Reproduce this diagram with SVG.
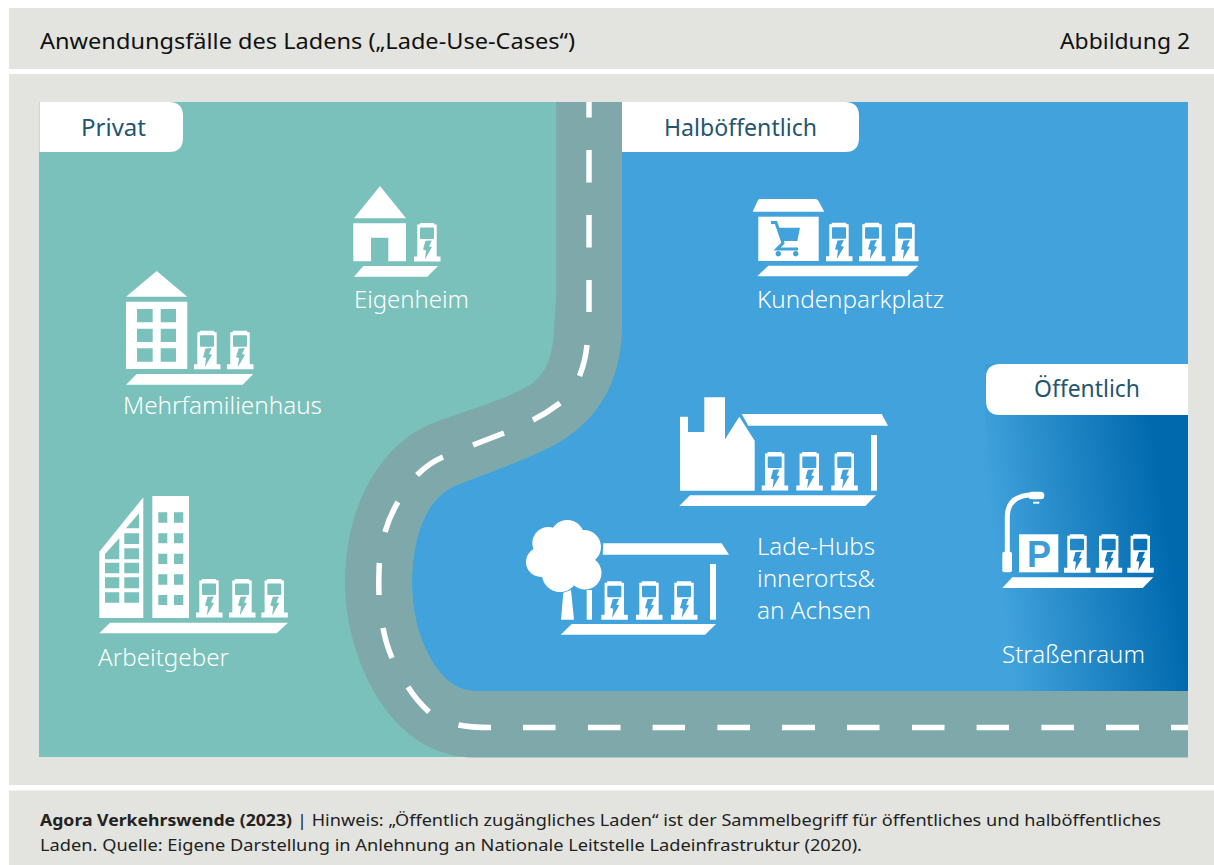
<svg xmlns="http://www.w3.org/2000/svg" width="1214" height="865" viewBox="0 0 1214 865">
<style>
.bar{fill:#E3E4DF}
.w{fill:#fff}
.t{font-family:"Noto Sans","Liberation Sans",sans-serif}
.hd{font-size:22px;fill:#111}
.tab{font-size:23px;fill:#245570;text-anchor:start}
.lb{font-size:23px;fill:#fff;font-weight:300}
.ft{font-size:16px;fill:#222}
.dash{fill:none;stroke:#fff;stroke-width:5.5}
</style>
<defs>
<linearGradient id="pub" gradientUnits="userSpaceOnUse" x1="1000" y1="585" x2="1172" y2="560">
<stop offset="0" stop-color="#41A2DC"/><stop offset="1" stop-color="#0069AE"/>
</linearGradient>
<path id="charger" fill="#fff" fill-rule="evenodd" d="M6 0H20L20.5 1.5H22.7V33.5H26.5V38.5H0V33.5H3.3V1.5H5.5ZM7 4.5Q6 4.5 6 5.5V15Q6 16 7 16H19Q20 16 20 15V5.5Q20 4.5 19 4.5ZM11.5 17.8L17.8 17.4L15 23.4L18 24L10.8 36.5L12 27.4L9 26.6Z"/>
</defs>
<rect class="bar" x="9" y="8" width="1205" height="61"/>
<rect class="bar" x="9" y="74" width="1205" height="711"/>
<rect class="bar" x="9" y="790.5" width="1205" height="74.5"/>
<text class="t hd" x="40" y="49" textLength="535" lengthAdjust="spacingAndGlyphs">Anwendungsfälle des Ladens („Lade-Use-Cases“)</text>
<text class="t hd" x="1060" y="49" textLength="130" lengthAdjust="spacingAndGlyphs">Abbildung 2</text>
<g id="scene">
<rect x="39" y="102" width="1149" height="655" fill="#79C1BA"/>
<path id="halboeffentlich-area" fill="#41A2DC" d="M610 102H1188V691H475C440 691 412 640 412 583C412 530 430 495 457 485C500 468 540 455 567 437C590 420 610 380 610 330Z"/>
<rect id="oeffentlich-area" x="985" y="364" width="203" height="327" fill="url(#pub)"/>
<path id="road" fill="#7EA8AA" d="M556 102V300L554 330C553 352 548 373 530 385C505 400 465 411 433 423C385 442 345 500 345 583C345 650 385 757 475 757.5H1188V691H475C440 691 412 640 412 583C412 530 430 495 457 485C500 468 540 455 567 437C605 412 621 372 622 330V102Z"/>
<path id="road-markings" class="dash" d="M589 102V117.5M589 150V182.5M589 215V247.5M589 280V312M587 345Q585.5 361 579.5 376M560 403Q547 413 533 420M504 433L473 445M443 457Q429 463 417 475M398 502Q390 515 385 532M379.3 563Q378.5 580 379 595M383 628Q386 644 392 658M408 687Q417 701 429 712M458.5 725Q470 727.5 491 727.5M523 727.5H555.5M588 727.5H620.5M652.6 727.5H685M717.4 727.5H750M782 727.5H815M847 727.5H879.5M912 727.5H944.5M976.6 727.5H1009M1041.4 727.5H1074M1106 727.5H1139M1171 727.5H1188"/>
</g>
<g id="tab-privat">
<path class="w" d="M39.5 102H169Q183 102 183 116V138Q183 152 169 152H39.5Z"/>
<text class="t tab" x="81" y="136" textLength="65" lengthAdjust="spacingAndGlyphs">Privat</text>
</g>
<g id="tab-halb">
<path class="w" d="M622 102H845Q859 102 859 116V138Q859 152 845 152H622Z"/>
<text class="t tab" x="664" y="136" textLength="153" lengthAdjust="spacingAndGlyphs">Halböffentlich</text>
</g>
<g id="tab-oeffentlich">
<path class="w" d="M1188 364H1000Q986 364 986 378V401Q986 415 1000 415H1188Z"/>
<text class="t tab" x="1034" y="397" textLength="106" lengthAdjust="spacingAndGlyphs">Öffentlich</text>
</g>
<g id="eigenheim">
<path class="w" fill-rule="evenodd" d="M380 186L406 218.3H354ZM353.3 223.3H406V261.3H388.3V237.7H371V261.3H353.3Z"/>
<use href="#charger" x="414" y="223"/>
<path class="w" d="M363.3 266H438L427.3 276.7H354Z"/>
<text class="t lb" x="354" y="308" textLength="115" lengthAdjust="spacingAndGlyphs">Eigenheim</text>
</g>
<g id="mehrfamilienhaus">
<path class="w" fill-rule="evenodd" d="M156.7 271L187.3 296.7H126ZM126 301.7H187.3V369H126ZM137 309V322.3H152.7V309ZM160.7 309V322.3H176V309ZM137 328.7V342H152.7V328.7ZM160.7 328.7V342H176V328.7ZM137 348.3V361.7H152.7V348.3ZM160.7 348.3V361.7H176V348.3Z"/>
<use href="#charger" x="194" y="330.7"/>
<use href="#charger" x="227" y="330.7"/>
<path class="w" d="M136.7 374H253.3L242.7 384.7H126Z"/>
<text class="t lb" x="123" y="414" textLength="199" lengthAdjust="spacingAndGlyphs">Mehrfamilienhaus</text>
</g>
<g id="arbeitgeber">
<path class="w" fill-rule="evenodd" d="M99.3 551.7L143.3 497.3V618H99.3ZM126 528.3H139V513.3ZM124.3 533.3V544H139V533.3ZM124.3 548.3V559.3H139V548.3ZM105 554V559.3H119.3V538.3ZM105 562.7V573.3H119.3V562.7ZM124.3 562.7V573.3H139V562.7ZM105 577.3V588.3H119.3V577.3ZM124.3 577.3V588.3H139V577.3ZM105 592.3V602.7H119.3V592.3ZM124.3 592.3V602.7H139V592.3Z"/>
<path class="w" fill-rule="evenodd" d="M152.3 496H189V618H152.3ZM158.3 512.3V522.7H167.3V512.3ZM174 512.3V522.7H183.3V512.3ZM158.3 533.3V543.3H167.3V533.3ZM174 533.3V543.3H183.3V533.3ZM158.3 553.7V564H167.3V553.7ZM174 553.7V564H183.3V553.7ZM158.3 574.3V584.7H167.3V574.3ZM174 574.3V584.7H183.3V574.3ZM158.3 595V605H167.3V595ZM174 595V605H183.3V595Z"/>
<use href="#charger" x="196" y="579"/>
<use href="#charger" x="229" y="579"/>
<use href="#charger" x="261.3" y="579"/>
<path class="w" d="M110 622.7H288L276.7 633.3H99.3Z"/>
<text class="t lb" x="98" y="666" textLength="131" lengthAdjust="spacingAndGlyphs">Arbeitgeber</text>
</g>
<g id="kundenparkplatz">
<path class="w" d="M760 199H815Q817.5 199 818.5 201L824.3 211.7H752.7L757.5 201Q758.5 199 760 199Z"/>
<rect class="w" x="758.3" y="216.7" width="60.4" height="44.3"/>
<g id="cart" fill="#41A2DC">
<path fill="none" stroke="#41A2DC" stroke-width="3" d="M771 222.5H776L783 243L777 249H798"/>
<path d="M778 227.7H800L797.3 241H782.5Z"/>
<circle cx="778.3" cy="253.7" r="2.7"/><circle cx="795.7" cy="253.7" r="2.7"/>
</g>
<use href="#charger" x="826" y="222.7"/>
<use href="#charger" x="859" y="222.7"/>
<use href="#charger" x="892" y="222.7"/>
<path class="w" d="M768.3 265.7H918.3L907.3 276.3H757.3Z"/>
<text class="t lb" x="757" y="308" textLength="187" lengthAdjust="spacingAndGlyphs">Kundenparkplatz</text>
</g>
<g id="lade-hub-innerorts">
<path class="w" d="M680 416.7H688V432H704.3V397.3H725V439.3L739.3 416.7L754.7 440.7V490.7H680Z"/>
<path class="w" d="M741.7 414H881.7L888 425.7H748.3Z"/>
<rect class="w" x="871" y="435" width="6" height="55.7"/>
<use href="#charger" x="761.7" y="452"/>
<use href="#charger" x="796.3" y="452"/>
<use href="#charger" x="831.3" y="452"/>
<path class="w" d="M690 495.3H876L865.3 506H679.3Z"/>
</g>
<g id="lade-hub-achsen">
<g class="w">
<circle cx="567.3" cy="537" r="17"/><circle cx="548.3" cy="543" r="16"/><circle cx="584" cy="547" r="17"/><circle cx="541" cy="562" r="15"/><circle cx="560" cy="574" r="18"/><circle cx="585" cy="573" r="16.5"/><circle cx="566.7" cy="556.7" r="23"/>
<path d="M563.3 592.7L571 590L574 619.7H561Z"/>
<rect x="586.7" y="590" width="5.3" height="29.7"/>
<path d="M603.3 543.3H721.7L729 554.7H602.7Z"/>
<rect x="710" y="564" width="6" height="55.7"/>
</g>
<use href="#charger" x="601.3" y="581.3"/>
<use href="#charger" x="636" y="581.3"/>
<use href="#charger" x="671" y="581.3"/>
<path class="w" d="M571.7 624H716L705 634.7H560.7Z"/>
</g>
<g id="lade-hubs-label">
<text class="t lb" x="757" y="555" textLength="118" lengthAdjust="spacingAndGlyphs">Lade-Hubs</text>
<text class="t lb" x="757" y="587" textLength="118" lengthAdjust="spacingAndGlyphs">innerorts&amp;</text>
<text class="t lb" x="757" y="619" textLength="114" lengthAdjust="spacingAndGlyphs">an Achsen</text>
</g>
<g id="strassenraum">
<rect class="w" x="1002.3" y="551.7" width="9.7" height="20.6" rx="2"/>
<path fill="none" stroke="#fff" stroke-width="5" d="M1007.3 553V517Q1007.3 497 1029 495"/>
<rect class="w" x="1028.3" y="491.7" width="16" height="7.6" rx="3.5"/>
<rect class="w" x="1033.3" y="501.7" width="6" height="2"/>
<rect class="w" x="1019" y="534.3" width="39.3" height="38"/>
<text x="1027" y="567.3" font-family="Liberation Sans, sans-serif" font-weight="700" font-size="36" fill="#3E9BD6">P</text>
<use href="#charger" x="1064" y="534.3"/>
<use href="#charger" x="1095.7" y="534.3"/>
<use href="#charger" x="1127.3" y="534.3"/>
<path class="w" d="M1012.3 577.3H1153.3L1142.7 588H1002.3Z"/>
<text class="t lb" x="1002" y="663" textLength="143" lengthAdjust="spacingAndGlyphs">Straßenraum</text>
</g>
<g id="footer">
<text class="t ft" x="40" y="826" font-weight="700" textLength="252" lengthAdjust="spacingAndGlyphs">Agora Verkehrswende (2023)</text>
<text class="t ft" x="297" y="826" textLength="864" lengthAdjust="spacingAndGlyphs">| Hinweis: „Öffentlich zugängliches Laden“ ist der Sammelbegriff für öffentliches und halböffentliches</text>
<text class="t ft" x="40" y="851" textLength="822" lengthAdjust="spacingAndGlyphs">Laden. Quelle: Eigene Darstellung in Anlehnung an Nationale Leitstelle Ladeinfrastruktur (2020).</text>
</g>
</svg>
